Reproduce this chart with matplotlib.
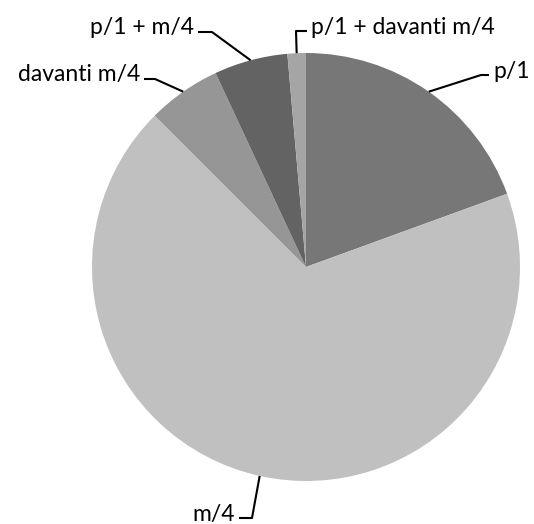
import numpy as np
import matplotlib.pyplot as plt

labels = ['p/1', 'm/4', 'davanti m/4', 'p/1 + m/4', 'p/1 + davanti m/4']
counts = [14, 49, 4, 4, 1]
colors = ['#777777', '#c0c0c0', '#969696', '#636363', '#a5a5a5']

H = 524
cx, cy, r = 306, 267, 214

fig = plt.figure(figsize=(5.34, 5.24), dpi=100)
ax = fig.add_axes([0, 0, 1, 1])

wedges, _ = ax.pie(counts, colors=colors, startangle=90, counterclock=False,
                   center=(cx, H - cy), radius=r, wedgeprops=dict(linewidth=0))

# pie() resets the limits, so set them afterwards
ax.set_xlim(0, 534)
ax.set_ylim(0, H)
ax.set_aspect('equal')
ax.axis('off')

# elbow point, end of horizontal stub, text side (image pixel coords)
leaders = {
    'p/1': ((481, 75), (489, 75), 'left'),
    'm/4': ((252, 518), (239, 518), 'right'),
    'davanti m/4': ((155, 79), (144, 79), 'right'),
    'p/1 + m/4': ((212, 32), (198, 32), 'right'),
    'p/1 + davanti m/4': ((296, 31), (307, 31), 'left'),
}

for w, lab in zip(wedges, labels):
    ang = np.deg2rad((w.theta1 + w.theta2) / 2)
    x0 = cx + r * np.cos(ang)
    y0 = H - cy + r * np.sin(ang)
    (ex, ey), (sx, sy), side = leaders[lab]
    ax.plot([x0, ex, sx], [y0, H - ey, H - sy], color='black', lw=1.5,
            solid_capstyle='butt')
    tx = sx + 4 if side == 'left' else sx - 4
    ax.text(tx, H - sy + 4, lab, ha=side, va='center', fontsize=16.5,
            family='Lato', color='black')

fig.savefig('out.png', dpi=100)
